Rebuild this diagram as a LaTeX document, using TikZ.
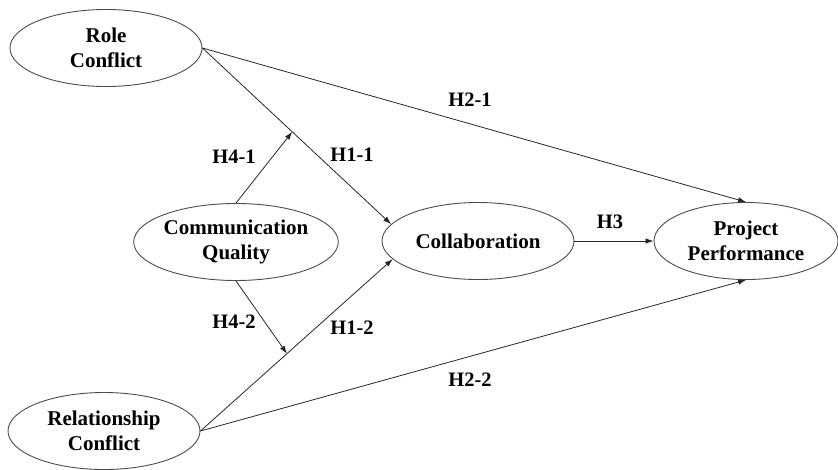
\documentclass[tikz,border=0pt]{standalone}
\usepackage{fontspec}
\setmainfont{Liberation Serif}
\usetikzlibrary{shapes.geometric,arrows.meta,calc}
\begin{document}
\begin{tikzpicture}[x=1pt,y=-1pt,
  construct/.style={ellipse,draw=black!70,line width=0.9pt,inner sep=0pt,
    minimum width=192pt,minimum height=77pt,align=center,
    font=\fontsize{21}{25}\selectfont\bfseries},
  path/.style={draw=black!85,line width=0.8pt,-{Latex[length=8pt,width=5.5pt]}},
  hyp/.style={font=\fontsize{20.5}{24}\selectfont\bfseries,inner sep=0pt}]
\useasboundingbox (0,0) rectangle (838,469);
\node[construct] (rc) at (106,48) {Role\\Conflict};
\node[construct] (cq) at (236,242) {Communication\\Quality};
\node[construct] (rel) at (104,431) {Relationship\\Conflict};
\node[construct] (col) at (478,241) {Collaboration};
\node[construct,minimum width=184pt] (pp) at (746,241) {Project\\Performance};
\draw[path] (rc.east) -- (col.169);
\draw[path] (rc.east) -- (pp.north);
\draw[path] (rel.east) -- (col.192);
\draw[path] (rel.east) -- (pp.south);
\draw[path] (col.east) -- (pp.west);
\coordinate (m1) at ($(rc.east)!0.476!(col.169)$);
\coordinate (m2) at ($(rel.east)!0.45!(col.192)$);
\draw[path] (cq.north) -- (m1);
\draw[path] (cq.south) -- (m2);
\node[hyp] (h41) at (234,157) {H4-1};
\node[hyp] (h11) at (352,155) {H1-1};
\node[hyp] (h21) at (470,100) {H2-1};
\node[hyp] (h3) at (610,222) {H3};
\node[hyp] (h42) at (234,322) {H4-2};
\node[hyp] (h12) at (352,328) {H1-2};
\node[hyp] (h22) at (470,380) {H2-2};
\end{tikzpicture}
\end{document}
